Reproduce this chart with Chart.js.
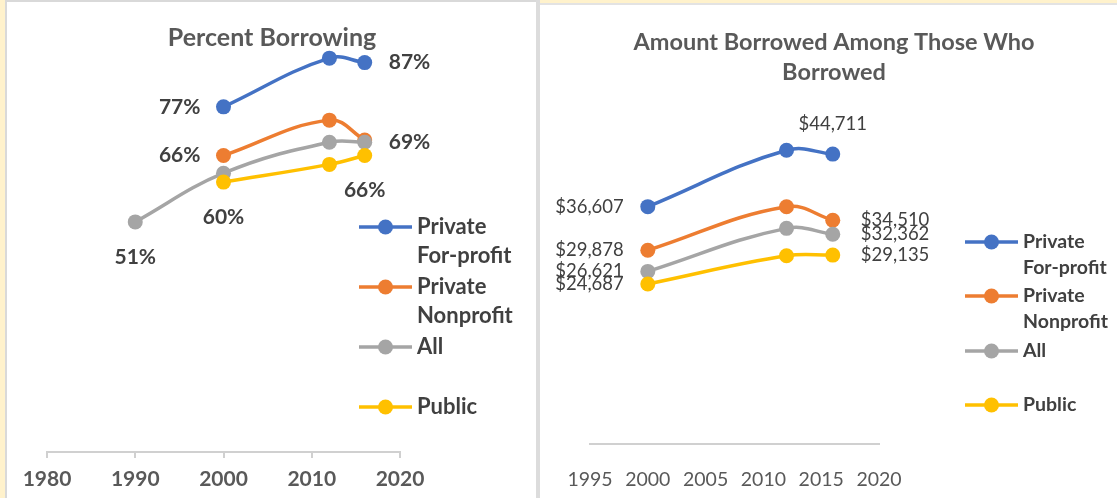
<!DOCTYPE html>
<html>
<head>
<meta charset="utf-8">
<script src="https://cdn.jsdelivr.net/npm/chart.js@4.4.0/dist/chart.umd.min.js"></script>
<style>
  body { margin: 0; width: 1117px; height: 498px; background: #fff; position: relative; overflow: hidden; }
  .bar { position: absolute; }
  #leftBox { position: absolute; left: 7px; top: 2px; width: 529px; height: 496px; }
  #rightBox { position: absolute; left: 540px; top: 5px; width: 577px; height: 493px; }
</style>
</head>
<body>
<div class="bar" style="left:0;top:0;width:5px;height:498px;background:#fff2cc"></div>
<div class="bar" style="left:5px;top:0;width:2px;height:498px;background:#d9d9d9"></div>
<div class="bar" style="left:7px;top:0;width:529px;height:2px;background:#d9d9d9"></div>
<div class="bar" style="left:536px;top:0;width:4px;height:498px;background:#dcdcdc"></div>
<div class="bar" style="left:540px;top:0;width:577px;height:3px;background:#fff2cc"></div>
<div class="bar" style="left:540px;top:3px;width:577px;height:2px;background:#e3e3e3"></div>

<div id="leftBox"><canvas id="chart_percent" width="529" height="496"></canvas></div>
<div id="rightBox"><canvas id="chart_amount" width="577" height="493"></canvas></div>

<script>
const seriesNames = [["Private", "For-profit"], ["Private", "Nonprofit"], ["All"], ["Public"]];
const seriesColors = ["#4472C4", "#ED7D31", "#A5A5A5", "#FFC000"];

// percent borrowing
const pctYears = [2000, 2012, 2016];
const pctAllYears = [1990, 2000, 2012, 2016];
const pctForProfit = [77, 88, 87];
const pctNonprofit = [66, 74, 69.5];
const pctAll = [51, 62, 69, 69];
const pctPublic = [60, 64, 66];
const pctTicks = [1980, 1990, 2000, 2010, 2020];

// amount borrowed among borrowers
const amtYears = [2000, 2012, 2016];
const amtForProfit = [36607, 45300, 44711];
const amtNonprofit = [29878, 36600, 34510];
const amtAll = [26621, 33260, 32362];
const amtPublic = [24687, 29030, 29135];
const amtTicks = [1995, 2000, 2005, 2010, 2015, 2020];

const textDark = "#404040";
const textGrey = "#595959";
const fontFamily = "Lato, 'Open Sans', sans-serif";

function points(years, values) {
  return years.map((yr, i) => ({x: yr, y: values[i]}));
}

function lineSet(idx, data, labelsAt) {
  return {
    label: seriesNames[idx].join(" "),
    data: data,
    borderColor: seriesColors[idx],
    backgroundColor: seriesColors[idx],
    pointBackgroundColor: seriesColors[idx],
    pointBorderWidth: 0,
    pointRadius: 7.5,
    borderWidth: 3.5,
    tension: 0.4,
    order: 4 - idx,
    valueLabels: labelsAt,
    legendLines: seriesNames[idx]
  };
}

// text next to chosen points, formatted from the point's own value
const pointLabels = {
  id: 'pointLabels',
  afterDatasetsDraw(chart, args, opts) {
    const ctx = chart.ctx;
    ctx.save();
    ctx.font = opts.font;
    ctx.fillStyle = opts.color;
    ctx.textBaseline = 'middle';
    chart.data.datasets.forEach((ds, di) => {
      const meta = chart.getDatasetMeta(di);
      (ds.valueLabels || []).forEach(([idx, side]) => {
        const pt = meta.data[idx];
        const text = opts.format(ds.data[idx].y);
        let x = pt.x, y = pt.y;
        if (side === 'left') { ctx.textAlign = 'right'; x -= opts.gapLeft; }
        else if (side === 'right') { ctx.textAlign = 'left'; x += opts.gapRight; }
        else if (side === 'below') { ctx.textAlign = 'center'; y += opts.drop; }
        else { ctx.textAlign = 'center'; y -= opts.drop; }
        ctx.fillText(text, x, y);
      });
    });
    ctx.restore();
  }
};

// legend on the right side, names can wrap onto two lines
const sideLegend = {
  id: 'sideLegend',
  afterDraw(chart, args, opts) {
    const ctx = chart.ctx;
    ctx.save();
    ctx.font = opts.font;
    ctx.textBaseline = 'middle';
    ctx.textAlign = 'left';
    chart.data.datasets.forEach((ds, di) => {
      const y = opts.rows[di];
      ctx.strokeStyle = ds.borderColor;
      ctx.lineWidth = 3.5;
      ctx.beginPath();
      ctx.moveTo(opts.x0, y);
      ctx.lineTo(opts.x1, y);
      ctx.stroke();
      ctx.fillStyle = ds.borderColor;
      ctx.beginPath();
      ctx.arc((opts.x0 + opts.x1) / 2, y, 7.5, 0, Math.PI * 2);
      ctx.fill();
      ctx.fillStyle = opts.color;
      ds.legendLines.forEach((line, li) => {
        ctx.fillText(line, opts.textX, y + li * opts.lineGap);
      });
    });
    ctx.restore();
  }
};

const panelTitle = {
  id: 'panelTitle',
  afterDraw(chart, args, opts) {
    const ctx = chart.ctx;
    ctx.save();
    ctx.font = opts.font;
    ctx.fillStyle = opts.color;
    ctx.textAlign = 'center';
    ctx.textBaseline = 'middle';
    opts.lines.forEach((line, i) => ctx.fillText(line, opts.x, opts.y + i * opts.lineGap));
    ctx.restore();
  }
};

const pctChart = new Chart(document.getElementById('chart_percent'), {
  type: 'line',
  data: {
    datasets: [
      lineSet(0, points(pctYears, pctForProfit), [[0, 'left'], [2, 'right']]),
      lineSet(1, points(pctYears, pctNonprofit), [[0, 'left']]),
      lineSet(2, points(pctAllYears, pctAll), [[0, 'below'], [3, 'right']]),
      lineSet(3, points(pctYears, pctPublic), [[0, 'below'], [2, 'below']])
    ]
  },
  options: {
    responsive: false,
    animation: false,
    layout: { padding: { left: 40, right: 136, top: 3, bottom: 0 } },
    scales: {
      x: {
        type: 'linear',
        min: 1980,
        max: 2020,
        afterBuildTicks: (scale) => { scale.ticks = pctTicks.map(v => ({value: v})); },
        afterFit: (scale) => { scale.height = 46; },
        ticks: {
          callback: (v) => String(v),
          color: textGrey,
          padding: 9,
          font: { family: fontFamily, size: 21, weight: 'bold' }
        },
        grid: { display: true, drawOnChartArea: false, drawTicks: true, tickLength: 6, color: '#d0d0d0', lineWidth: 2 },
        border: { display: true, color: '#d0d0d0', width: 2 }
      },
      y: { display: false, min: -1, max: 99 }
    },
    plugins: {
      legend: { display: false },
      tooltip: { enabled: false },
      pointLabels: {
        font: "bold 21px " + fontFamily,
        color: textDark,
        format: (v) => Math.round(v) + '%',
        gapLeft: 23, gapRight: 24, drop: 35
      },
      sideLegend: {
        font: "bold 22px " + fontFamily,
        color: textDark,
        x0: 352, x1: 405, textX: 410,
        rows: [225, 285, 345, 405],
        lineGap: 29
      },
      panelTitle: {
        font: "bold 25px " + fontFamily,
        color: textGrey,
        lines: ["Percent Borrowing"],
        x: 265, y: 36, lineGap: 0
      }
    }
  },
  plugins: [pointLabels, sideLegend, panelTitle]
});

const amtChart = new Chart(document.getElementById('chart_amount'), {
  type: 'line',
  data: {
    datasets: [
      lineSet(0, points(amtYears, amtForProfit), [[0, 'left'], [2, 'above']]),
      lineSet(1, points(amtYears, amtNonprofit), [[0, 'left'], [2, 'right']]),
      lineSet(2, points(amtYears, amtAll), [[0, 'left'], [2, 'right']]),
      lineSet(3, points(amtYears, amtPublic), [[0, 'left'], [2, 'right']])
    ]
  },
  options: {
    responsive: false,
    animation: false,
    layout: { padding: { left: 50, right: 238, top: 50, bottom: 0 } },
    scales: {
      x: {
        type: 'linear',
        min: 1995,
        max: 2020,
        afterBuildTicks: (scale) => { scale.ticks = amtTicks.map(v => ({value: v})); },
        afterFit: (scale) => { scale.height = 54; },
        ticks: {
          callback: (v) => String(v),
          color: textGrey,
          padding: 16,
          font: { family: fontFamily, size: 19.5 }
        },
        grid: { display: false },
        border: { display: true, color: '#d0d0d0', width: 2 }
      },
      y: { display: false, min: 0, max: 60000 }
    },
    plugins: {
      legend: { display: false },
      tooltip: { enabled: false },
      pointLabels: {
        font: "18.5px " + fontFamily,
        color: textDark,
        format: (v) => '$' + v.toLocaleString('en-US'),
        gapLeft: 24, gapRight: 28, drop: 30
      },
      sideLegend: {
        font: "bold 19.5px " + fontFamily,
        color: textDark,
        x0: 425, x1: 478, textX: 483,
        rows: [237, 291, 346, 400],
        lineGap: 26
      },
      panelTitle: {
        font: "bold 23.5px " + fontFamily,
        color: textGrey,
        lines: ["Amount Borrowed Among Those Who", "Borrowed"],
        x: 294, y: 37, lineGap: 30
      }
    }
  },
  plugins: [pointLabels, sideLegend, panelTitle]
});
</script>
</body>
</html>
